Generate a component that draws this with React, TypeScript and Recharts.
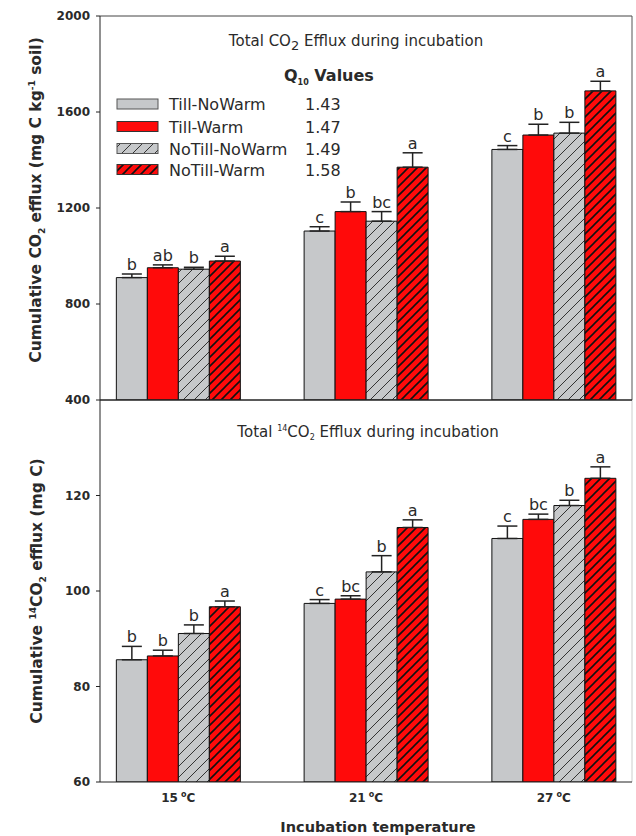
import React from "react";
import { BarChart, Bar, XAxis, YAxis, ErrorBar, LabelList, ReferenceLine } from "recharts";

// ==================== Data ====================

const temps = [15, 21, 27];
const seriesNames = ["Till-NoWarm", "Till-Warm", "NoTill-NoWarm", "NoTill-Warm"];
const q10Values = ["1.43", "1.47", "1.49", "1.58"];

// total CO2 (mg C kg-1 soil)
const co2TillNoWarm = [910, 1104, 1444];
const co2TillWarm = [951, 1185, 1504];
const co2NoTillNoWarm = [945, 1145, 1512];
const co2NoTillWarm = [979, 1370, 1688];
const co2TillNoWarmErr = [15, 18, 16];
const co2TillWarmErr = [12, 40, 45];
const co2NoTillNoWarmErr = [8, 40, 45];
const co2NoTillWarmErr = [20, 60, 40];
const co2TillNoWarmLetters = ["b", "c", "c"];
const co2TillWarmLetters = ["ab", "b", "b"];
const co2NoTillNoWarmLetters = ["b", "bc", "b"];
const co2NoTillWarmLetters = ["a", "a", "a"];

// total 14CO2 (mg C)
const c14TillNoWarm = [85.6, 97.4, 111.0];
const c14TillWarm = [86.4, 98.3, 115.0];
const c14NoTillNoWarm = [91.1, 104.0, 117.9];
const c14NoTillWarm = [96.7, 113.3, 123.6];
const c14TillNoWarmErr = [2.8, 0.8, 2.6];
const c14TillWarmErr = [1.2, 0.7, 1.1];
const c14NoTillNoWarmErr = [1.8, 3.4, 1.1];
const c14NoTillWarmErr = [1.2, 1.6, 2.4];
const c14TillNoWarmLetters = ["b", "c", "c"];
const c14TillWarmLetters = ["b", "bc", "bc"];
const c14NoTillNoWarmLetters = ["b", "b", "b"];
const c14NoTillWarmLetters = ["a", "a", "a"];

const co2Ticks = [400, 800, 1200, 1600, 2000];
const c14Ticks = [60, 80, 100, 120];

// ==================== Helpers ====================

const fills = ["#c6c8ca", "#ff0a0a", "url(#hatchGray)", "url(#hatchRed)"];
const FONT = "'DejaVu Sans', sans-serif";
const INK = "#2a2a2a";

const buildRows = (means: number[][], errs: number[][]) =>
    temps.map((t, i) => {
        const row: any = { temp: t };
        means.forEach((m, s) => {
            row["s" + s] = m[i];
            row["e" + s] = [0, errs[s][i]];
        });
        return row;
    });

const co2Rows = buildRows(
    [co2TillNoWarm, co2TillWarm, co2NoTillNoWarm, co2NoTillWarm],
    [co2TillNoWarmErr, co2TillWarmErr, co2NoTillNoWarmErr, co2NoTillWarmErr]
);
const c14Rows = buildRows(
    [c14TillNoWarm, c14TillWarm, c14NoTillNoWarm, c14NoTillWarm],
    [c14TillNoWarmErr, c14TillWarmErr, c14NoTillNoWarmErr, c14NoTillWarmErr]
);

// letter above the error cap; error height in px taken from the bar's own px/unit
const letterContent = (letters: string[], means: number[], errs: number[], min: number) => (p: any) => {
    const vb = p.viewBox && p.viewBox.width != null ? p.viewBox : p;
    const i = p.index;
    if (i == null || vb.width == null) return null;
    const pxPerUnit = Math.abs(vb.height) / (means[i] - min);
    const top = Math.min(vb.y, vb.y + vb.height) - errs[i] * pxPerUnit;
    return (
        <text x={vb.x + vb.width / 2} y={top - 4} textAnchor="middle" fontFamily={FONT} fontSize={16} fill={INK}>
            {letters[i]}
        </text>
    );
};

const TempTick = ({ x, y, payload }: any) => (
    <text x={x} y={y + 12} textAnchor="middle" fontFamily={FONT} fontWeight="bold" fontSize={12} fill={INK}>
        {payload.value}
        <tspan dx={3} dy={-5} fontSize={8}>o</tspan>
        <tspan dy={5}>C</tspan>
    </text>
);

interface PanelProps {
    rows: any[];
    means: number[][];
    errs: number[][];
    letters: string[][];
    domain: [number, number];
    ticks: number[];
    showX: boolean;
}

const Panel: React.FC<PanelProps & { height: number; margin: any }> = ({ rows, means, errs, letters, domain, ticks, showX, height, margin }) => (
    <BarChart width={636} height={height} data={rows} margin={margin} barGap={0} barSize={31}>
        <XAxis
            dataKey="temp"
            type="number"
            domain={[12.5, 29.5]}
            ticks={temps}
            allowDataOverflow
            height={showX ? 30 : 5}
            tick={showX ? <TempTick /> : false}
            tickLine={false}
            axisLine={{ stroke: "#222" }}
        />
        <YAxis
            type="number"
            domain={domain}
            ticks={ticks}
            interval={0}
            allowDataOverflow
            width={60}
            tickSize={4}
            tickMargin={6}
            tick={{ fontFamily: FONT, fontWeight: "bold", fontSize: 12, fill: INK }}
            tickLine={{ stroke: "#222" }}
            axisLine={{ stroke: "#222" }}
        />
        {!showX && <ReferenceLine y={domain[1]} stroke="#444" />}
        {!showX && <ReferenceLine y={domain[0]} stroke="#222" />}
        <ReferenceLine x={29.5} stroke={showX ? "#ccc" : "#555"} />
        {means.map((m, s) => (
            <Bar key={s} dataKey={"s" + s} name={seriesNames[s]} fill={fills[s]} stroke="#111" strokeWidth={1} isAnimationActive={false}>
                <ErrorBar dataKey={"e" + s} width={10} stroke="#222" strokeWidth={1.5} direction="y" />
                <LabelList dataKey={"s" + s} content={letterContent(letters[s], m, errs[s], domain[0])} />
            </Bar>
        ))}
    </BarChart>
);

// ==================== Component ====================

const App: React.FC = () => {
    const legendY = [104, 126.5, 148.5, 169.5];
    return (
        <div style={{ position: "absolute", left: 0, top: 0, width: 636, height: 836, background: "#fff" }}>
            <svg width={0} height={0} style={{ position: "absolute" }}>
                <defs>
                    <pattern id="hatchGray" patternUnits="userSpaceOnUse" width={11} height={11}>
                        <rect width={11} height={11} fill="#c6c8ca" />
                        <path d="M-1,1 L1,-1 M0,11 L11,0 M10,12 L12,10" stroke="#333" strokeWidth={1} />
                    </pattern>
                    <pattern id="hatchRed" patternUnits="userSpaceOnUse" width={9} height={9}>
                        <rect width={9} height={9} fill="#ff0a0a" />
                        <path d="M-1,1 L1,-1 M0,9 L9,0 M8,10 L10,8" stroke="#111" strokeWidth={1.6} />
                    </pattern>
                </defs>
            </svg>

            <div style={{ position: "absolute", left: 0, top: 395 }}>
                <Panel
                    rows={c14Rows}
                    means={[c14TillNoWarm, c14TillWarm, c14NoTillNoWarm, c14NoTillWarm]}
                    errs={[c14TillNoWarmErr, c14TillWarmErr, c14NoTillNoWarmErr, c14NoTillWarmErr]}
                    letters={[c14TillNoWarmLetters, c14TillWarmLetters, c14NoTillNoWarmLetters, c14NoTillWarmLetters]}
                    domain={[60, 140]}
                    ticks={c14Ticks}
                    showX={true}
                    height={441}
                    margin={{ top: 5, right: 4, bottom: 24, left: 40 }}
                />
            </div>
            <div style={{ position: "absolute", left: 0, top: 0 }}>
                <Panel
                    rows={co2Rows}
                    means={[co2TillNoWarm, co2TillWarm, co2NoTillNoWarm, co2NoTillWarm]}
                    errs={[co2TillNoWarmErr, co2TillWarmErr, co2NoTillNoWarmErr, co2NoTillWarmErr]}
                    letters={[co2TillNoWarmLetters, co2TillWarmLetters, co2NoTillNoWarmLetters, co2NoTillWarmLetters]}
                    domain={[400, 2000]}
                    ticks={co2Ticks}
                    showX={false}
                    height={410}
                    margin={{ top: 16, right: 4, bottom: 5, left: 40 }}
                />
            </div>

            <svg width={636} height={836} style={{ position: "absolute", left: 0, top: 0, pointerEvents: "none" }}>
                {/* panel titles */}
                <text x={356} y={46} textAnchor="middle" fontFamily={FONT} fontSize={15} fill={INK}>
                    Total CO<tspan dy={4} fontSize={13}>2</tspan>
                    <tspan dy={-4}> Efflux during incubation</tspan>
                </text>
                <text x={368} y={437} textAnchor="middle" fontFamily={FONT} fontSize={15} fill={INK}>
                    Total <tspan dy={-6} fontSize={8}>14</tspan>
                    <tspan dy={6}>CO</tspan>
                    <tspan dy={3} fontSize={8}>2</tspan>
                    <tspan dy={-3}> Efflux during incubation</tspan>
                </text>

                {/* legend */}
                <text x={284} y={81} fontFamily={FONT} fontWeight="bold" fontSize={16} fill={INK}>
                    Q<tspan dy={4} fontSize={8}>10</tspan>
                    <tspan dy={-4}> Values</tspan>
                </text>
                {seriesNames.map((name, s) => (
                    <g key={name}>
                        <rect x={117} y={legendY[s] - 5} width={41} height={10} fill={fills[s]} stroke={s % 2 === 0 ? "#555" : "#333"} strokeWidth={1} />
                        <text x={169} y={legendY[s] + 6} fontFamily={FONT} fontSize={16} fill={INK}>{name}</text>
                        <text x={305} y={legendY[s] + 6} fontFamily={FONT} fontSize={16} fill={INK}>{q10Values[s]}</text>
                    </g>
                ))}

                {/* axis titles */}
                <text transform="translate(41,200) rotate(-90)" textAnchor="middle" fontFamily={FONT} fontWeight="bold" fontSize={15.5} fill={INK}>
                    Cumulative CO<tspan dy={4} fontSize={9}>2</tspan>
                    <tspan dy={-4}> efflux (mg C kg</tspan>
                    <tspan dy={-6} fontSize={9}>-1</tspan>
                    <tspan dy={6}> soil)</tspan>
                </text>
                <text transform="translate(42,591) rotate(-90)" textAnchor="middle" fontFamily={FONT} fontWeight="bold" fontSize={15.5} fill={INK}>
                    Cumulative <tspan dy={-6} fontSize={9}>14</tspan>
                    <tspan dy={6}>CO</tspan>
                    <tspan dy={4} fontSize={9}>2</tspan>
                    <tspan dy={-4}> efflux (mg C)</tspan>
                </text>
                <text x={378} y={832} textAnchor="middle" fontFamily={FONT} fontWeight="bold" fontSize={14.5} fill={INK}>
                    Incubation temperature
                </text>
            </svg>
        </div>
    );
};

export default App;
